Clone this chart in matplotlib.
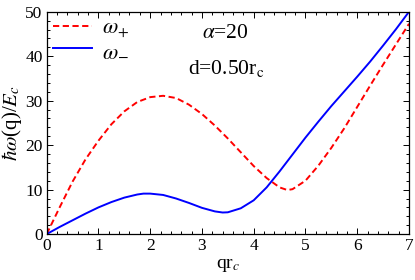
import matplotlib
matplotlib.use("Agg")
import matplotlib.pyplot as plt
from matplotlib.ticker import MultipleLocator

plt.rcParams["font.family"] = ["Liberation Serif", "DejaVu Serif"]
plt.rcParams["mathtext.fontset"] = "stix"

# dispersion
q = [0, 0.25, 0.5, 0.75, 1.0, 1.25, 1.5, 1.75, 2.0, 2.25, 2.5, 2.75, 3.0, 3.25,
     3.5, 3.75, 4.0, 4.25, 4.5, 4.65, 4.75, 5.0, 5.25, 5.5, 5.75, 6.0, 6.25,
     6.5, 6.75, 7.0]
w_plus = [0, 6.0, 11.8, 16.8, 21.0, 24.7, 27.6, 29.7, 30.8, 31.1, 30.6, 29.1,
          27.0, 24.4, 21.5, 18.4, 15.3, 12.6, 10.5, 9.9, 10.1, 12.0, 15.4,
          19.4, 23.8, 28.6, 33.4, 38.1, 42.7, 47.3]

q2 = [0, 0.25, 0.5, 0.75, 1.0, 1.25, 1.5, 1.75, 1.87, 2.0, 2.25, 2.5, 2.75,
      3.0, 3.25, 3.4, 3.5, 3.75, 4.0, 4.25, 4.5, 4.75, 5.0, 5.25, 5.5, 5.75,
      6.0, 6.25, 6.5, 6.75, 7.0]
w_minus = [0, 1.6, 3.1, 4.6, 6.0, 7.2, 8.2, 8.9, 9.1, 9.1, 8.8, 8.0, 7.0,
           5.9, 5.1, 4.85, 4.9, 5.8, 7.6, 10.5, 14.1, 17.9, 21.7, 25.3, 28.8,
           32.1, 35.4, 38.8, 42.4, 46.1, 50.0]

fig = plt.figure(figsize=(4.15, 2.8), dpi=100)
ax = fig.add_axes([0.1125, 0.164, 0.873, 0.794])

ax.plot(q, w_plus, color="red", ls=(0, (3.2, 1.8)), lw=1.4, label=r"$\omega_{+}$")
ax.plot(q2, w_minus, color="blue", lw=1.4, label=r"$\omega_{-}$")

ax.set_xlim(0, 7)
ax.set_ylim(0, 50)
ax.xaxis.set_major_locator(MultipleLocator(1))
ax.xaxis.set_minor_locator(MultipleLocator(0.2))
ax.yaxis.set_major_locator(MultipleLocator(10))
ax.yaxis.set_minor_locator(MultipleLocator(2))
ax.tick_params(which="both", direction="in", top=True, right=True,
               labelsize=12.5, width=0.7, pad=3)
ax.tick_params(which="major", length=4)
ax.tick_params(which="minor", length=2)
for s in ax.spines.values():
    s.set_linewidth(0.9)

ax.set_xlabel(r"qr$_{c}$", fontsize=14, labelpad=2)
ax.set_ylabel(r"$\hbar\omega$(q)/$E_c$", fontsize=15, labelpad=1)

ax.legend(loc="upper left", frameon=False, fontsize=16, handlelength=1.75,
          borderaxespad=0.1, borderpad=0.2, labelspacing=0.0,
          handletextpad=0.45)
ax.text(0.43, 0.9, r"$\alpha$=20", transform=ax.transAxes, fontsize=15.5,
        va="center")
ax.text(0.39, 0.745, r"d=0.50r$_{\rm c}$", transform=ax.transAxes,
        fontsize=15.5, va="center")

fig.savefig("out.png", dpi=100)
